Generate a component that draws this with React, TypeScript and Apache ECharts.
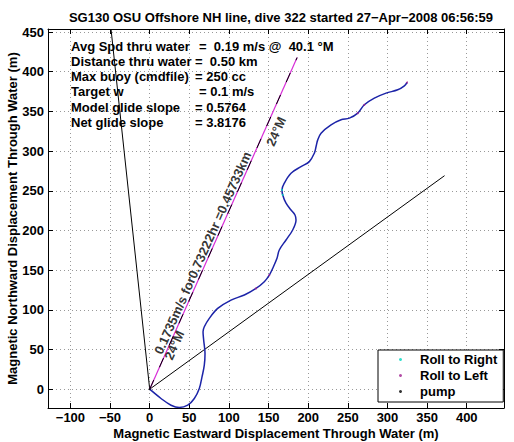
import React, { useEffect, useRef } from "react";
import * as echarts from "echarts";

// Glider track (magnetic east / north displacement through water, m)
const trackEast = [0, 14.3, 26.9, 37.3, 48, 56.3, 62.6, 66, 68.9, 69.8, 68.1, 67.3, 68.9, 75.2, 85.8, 102.6, 119.4, 134.1, 144.6, 150.9, 155.2, 160.6, 163.5, 172, 180.4, 184.6, 183.3, 178.3, 172, 167.8, 166.9, 169.8, 178.3, 190.9, 201.4, 207.7, 209.9, 212, 216.2, 228.8, 241.4, 251.9, 262.5, 270.8, 283.4, 298.2, 312.9, 321.3, 324.7];
const trackNorth = [0, -11.7, -20.2, -23.2, -20.2, -11.7, 0.9, 15.5, 30.3, 45, 61.8, 72.3, 78.6, 89.2, 101.8, 112.3, 118.6, 127, 135.4, 143.8, 152.3, 164.9, 175.4, 188, 200.6, 213.2, 219.5, 225.8, 234.3, 244.7, 251, 259.5, 272.1, 280.4, 286.7, 297.3, 305.7, 314.1, 322.6, 333, 339.4, 341.5, 347.8, 358.3, 366.7, 373, 377.2, 382.2, 386.4];

// Roll / pump markers
const rollRightEast = [167.8, 166.9];
const rollRightNorth = [244.7, 251];
const rollLeftEast = [134.1, 150.9, 262.5, 270.8, 324.7];
const rollLeftNorth = [127, 143.8, 347.8, 358.3, 386.4];
const pumpEast = [0];
const pumpNorth = [0];

// Reference lines from origin
const headingLineEast = [0, 186.0];
const headingLineNorth = [0, 417.8];
const steepLineEast = [0, -48.8];
const steepLineNorth = [0, 453.8];
const shallowLineEast = [0, 372];
const shallowLineNorth = [0, 269];

// Annotation anchors
const annotations = [
  { text: "0.1735m/s for0.73222hr =0.45733km", east: 66.9, north: 171.6 },
  { text: "24°M", east: 31, north: 55.5 },
  { text: "24°M", east: 159.4, north: 324.6 },
];

const statLabels = ["Avg Spd thru water", "Distance thru water", "Max buoy (cmdfile)", "Target w", "Model glide slope", "Net glide slope"];
const statValues = ["=  0.19 m/s @  40.1 °M", "=  0.50 km", "= 250 cc", "= 0.1 m/s", "= 0.5764", "= 3.8176"];

const xTicks = [-100, -50, 0, 50, 100, 150, 200, 250, 300, 350, 400];
const yTicks = [0, 50, 100, 150, 200, 250, 300, 350, 400, 450];
const xMin = -128.3, xMax = 447;
const yMin = -23.7, yMax = 453.8;

const FONT = "'Liberation Sans', Arial, Helvetica, sans-serif";

const zip = (a: number[], b: number[]) => a.map((v, i) => [v, b[i]]);

export default function App() {
  const ref = useRef<HTMLDivElement>(null);
  useEffect(() => {
    if (!ref.current) return;
    const chart = echarts.init(ref.current, null, { renderer: "svg" });
    const axisCommon = {
      type: "value" as const,
      axisLine: { show: true, onZero: false, lineStyle: { color: "#000", width: 1 } },
      axisTick: { show: true, inside: true, length: 5, lineStyle: { color: "#000" } },
    };
    const graphics: any[] = [];
    statLabels.forEach((t, i) => {
      const y = 47.7 + i * 15.2;
      graphics.push({ type: "text", left: 71, top: y - 8, style: { text: t, font: `bold 13px ${FONT}`, fill: "#000" } });
      graphics.push({ type: "text", left: i === 0 || i === 3 ? 199 : 195, top: y - 8, style: { text: statValues[i], font: `bold 13px ${FONT}`, fill: "#000" } });
    });
    chart.setOption({
      animation: false,
      backgroundColor: "#fff",
      title: {
        text: "SG130 OSU Offshore NH line, dive 322 started 27\u2212Apr\u22122008 06:56:59",
        left: 276,
        textAlign: "center",
        top: 6,
        textStyle: { fontFamily: FONT, fontWeight: "bold", fontSize: 13, color: "#000" },
      },
      grid: { left: 48, right: 10, top: 29, bottom: 34, containLabel: false, outerBoundsMode: "none" },
      xAxis: [
        {
          ...axisCommon,
          position: "bottom",
          min: xMin,
          max: xMax,
          name: "Magnetic Eastward Displacement Through Water (m)",
          nameLocation: "middle",
          nameGap: 19,
          nameMoveOverlap: false,
          nameTextStyle: { fontFamily: FONT, fontWeight: "bold", fontSize: 13, color: "#000" },
          axisTick: { ...axisCommon.axisTick, customValues: xTicks },
          axisLabel: { customValues: xTicks, fontFamily: FONT, fontWeight: "bold", fontSize: 13, color: "#000", margin: 3, formatter: (v: number) => String(v).replace("-", "\u2212") },
          splitLine: { show: true, lineStyle: { color: "#999", type: [1, 3], width: 1 } },
        },
        {
          ...axisCommon,
          position: "top",
          min: xMin,
          max: xMax,
          axisTick: { ...axisCommon.axisTick, customValues: xTicks },
          axisLabel: { show: false },
          splitLine: { show: false },
        },
      ],
      yAxis: [
        {
          ...axisCommon,
          position: "left",
          min: yMin,
          max: yMax,
          name: "Magnetic Northward Displacement Through Water (m)",
          nameLocation: "middle",
          nameGap: 29,
          nameMoveOverlap: false,
          nameTextStyle: { fontFamily: FONT, fontWeight: "bold", fontSize: 13, color: "#000" },
          axisTick: { ...axisCommon.axisTick, customValues: yTicks },
          axisLabel: { customValues: yTicks, fontFamily: FONT, fontWeight: "bold", fontSize: 13, color: "#000", margin: 4 },
          splitLine: { show: true, lineStyle: { color: "#999", type: [1, 3], width: 1 } },
        },
        {
          ...axisCommon,
          position: "right",
          min: yMin,
          max: yMax,
          axisTick: { ...axisCommon.axisTick, customValues: yTicks },
          axisLabel: { show: false },
          splitLine: { show: false },
        },
      ],
      legend: {
        data: ["Roll to Right", "Roll to Left", "pump"],
        orient: "vertical",
        left: 378,
        top: 350,
        padding: [2, 6, 3, 21],
        itemGap: 1,
        itemWidth: 3,
        itemHeight: 3,
        icon: "circle",
        backgroundColor: "#fff",
        borderColor: "#000",
        borderWidth: 1,
        borderRadius: 0,
        textStyle: { fontFamily: FONT, fontWeight: "bold", fontSize: 13, color: "#000", padding: [0, 0, 0, 13], lineHeight: 15 },
      },
      graphic: graphics,
      series: [
        {
          type: "line",
          data: zip(steepLineEast, steepLineNorth),
          symbol: "none",
          lineStyle: { color: "#000", width: 1 },
          silent: true,
          z: 2,
        },
        {
          type: "line",
          data: zip(shallowLineEast, shallowLineNorth),
          symbol: "none",
          lineStyle: { color: "#000", width: 1 },
          silent: true,
          z: 2,
        },
        {
          type: "line",
          data: zip(headingLineEast, headingLineNorth),
          symbol: "none",
          lineStyle: { color: "#d82cd8", width: 1.2 },
          silent: true,
          z: 2,
        },
        {
          type: "line",
          data: zip(headingLineEast, headingLineNorth),
          symbol: "none",
          lineStyle: { color: "#000", width: 1, type: [10, 14] },
          silent: true,
          z: 3,
        },
        {
          type: "line",
          data: zip(trackEast, trackNorth),
          symbol: "none",
          smooth: 0.35,
          lineStyle: { color: "#1c24a8", width: 1.5 },
          silent: true,
          z: 4,
        },
        {
          name: "Roll to Right",
          type: "scatter",
          data: zip(rollRightEast, rollRightNorth),
          symbolSize: 2,
          itemStyle: { color: "#00d8c0" },
          z: 5,
        },
        {
          name: "Roll to Left",
          type: "scatter",
          data: zip(rollLeftEast, rollLeftNorth),
          symbolSize: 2,
          itemStyle: { color: "#a02090" },
          z: 5,
        },
        {
          name: "pump",
          type: "scatter",
          data: zip(pumpEast, pumpNorth),
          symbolSize: 2,
          itemStyle: { color: "#000" },
          z: 5,
        },
        {
          type: "scatter",
          data: annotations.map((a) => ({ value: [a.east, a.north], name: a.text })),
          symbolSize: 0,
          silent: true,
          z: 6,
          label: {
            show: true,
            position: "inside",
            rotate: 66,
            formatter: (p: any) => p.name,
            fontFamily: FONT,
            fontWeight: "bold",
            fontSize: 13,
            color: "#000",
            align: "center",
            verticalAlign: "middle",
          },
        },
      ],
    });
    return () => chart.dispose();
  }, []);
  return <div ref={ref} style={{ width: 514, height: 442, position: "absolute", left: 0, top: 0 }} />;
}
